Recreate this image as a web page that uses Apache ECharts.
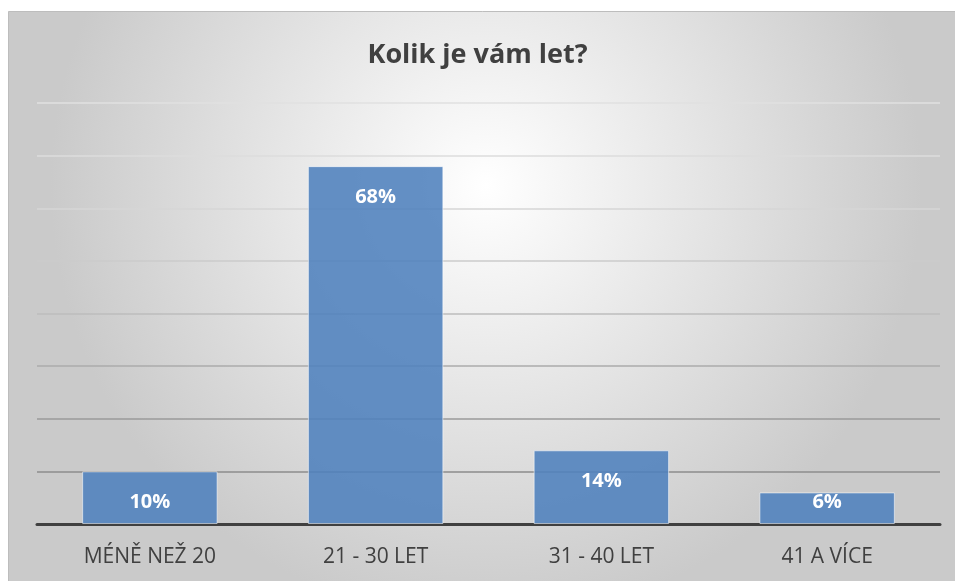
<!DOCTYPE html>
<html>
<head>
<meta charset="UTF-8">
<title>Kolik je vám let?</title>
<script type="text/javascript" src="https://cdn.jsdelivr.net/npm/echarts@6/dist/echarts.min.js"></script>
<style>
  html, body { margin: 0; padding: 0; background: #ffffff; }
</style>
</head>
<body>
<div id="main" style="width: 955px; height: 581px"></div>

<script type="text/javascript">
	var categories = ['MÉNĚ NEŽ 20', '21 - 30 LET', '31 - 40 LET', '41 A VÍCE'];
	var percents = [10, 68, 14, 6];
	var yTicks = [0, 10, 20, 30, 40, 50, 60, 70, 80];

	var mychart = echarts.init(document.getElementById('main'));

	// short bars get the label pulled up against the top edge
	var barData = percents.map(function (v) {
		if (v < 8) {
			return { value: v, label: { distance: 0 } };
		}
		return v;
	});

	var option = {
		animation: false,
		textStyle: { fontFamily: 'Open Sans' },
		graphic: [{
			type: 'rect',
			z: -10,
			shape: { x: 8.5, y: 11.5, width: 955, height: 580 },
			style: {
				fill: {
					type: 'radial', x: 0.5, y: 0.3, r: 0.75,
					colorStops: [
						{ offset: 0, color: '#ffffff' },
						{ offset: 1, color: '#cacaca' }
					]
				},
				stroke: '#bdbdbd',
				lineWidth: 1
			}
		}],
		title: {
			text: 'Kolik je vám let?',
			left: 'center',
			top: 37,
			textStyle: { fontSize: 27, fontWeight: 'bold', color: '#404040', fontFamily: 'Open Sans' }
		},
		grid: { left: 37, right: 15, top: 103, bottom: 57 },
		xAxis: {
			type: 'category',
			data: categories,
			axisLine: { lineStyle: { color: '#404040', width: 3 } },
			axisTick: { show: false },
			axisLabel: { fontSize: 21, color: '#404040', margin: 23, fontFamily: 'Open Sans' }
		},
		yAxis: {
			type: 'value',
			min: yTicks[0],
			max: yTicks[yTicks.length - 1],
			interval: 10,
			axisLabel: { show: false },
			axisLine: { show: false },
			axisTick: { show: false },
			splitLine: {
				lineStyle: {
					width: 1.5,
					color: ['#808080', '#8c8c8c', '#9a9a9a', '#ababab', '#bdbdbd', '#cbcbcb', '#d6d6d6', '#dcdcdc', '#e0e0e0']
				}
			}
		},
		series: [{
			type: 'bar',
			data: barData,
			barWidth: '60%',
			itemStyle: {
				color: 'rgba(79, 129, 189, 0.88)',
				borderColor: 'rgba(255, 255, 255, 0.55)',
				borderWidth: 1
			},
			label: {
				show: true,
				position: 'insideTop',
				distance: 21,
				formatter: '{c}%',
				color: '#ffffff',
				fontSize: 20,
				fontWeight: 'bold',
				fontFamily: 'Open Sans'
			}
		}]
	};

	mychart.setOption(option);
</script>
</body>
</html>
